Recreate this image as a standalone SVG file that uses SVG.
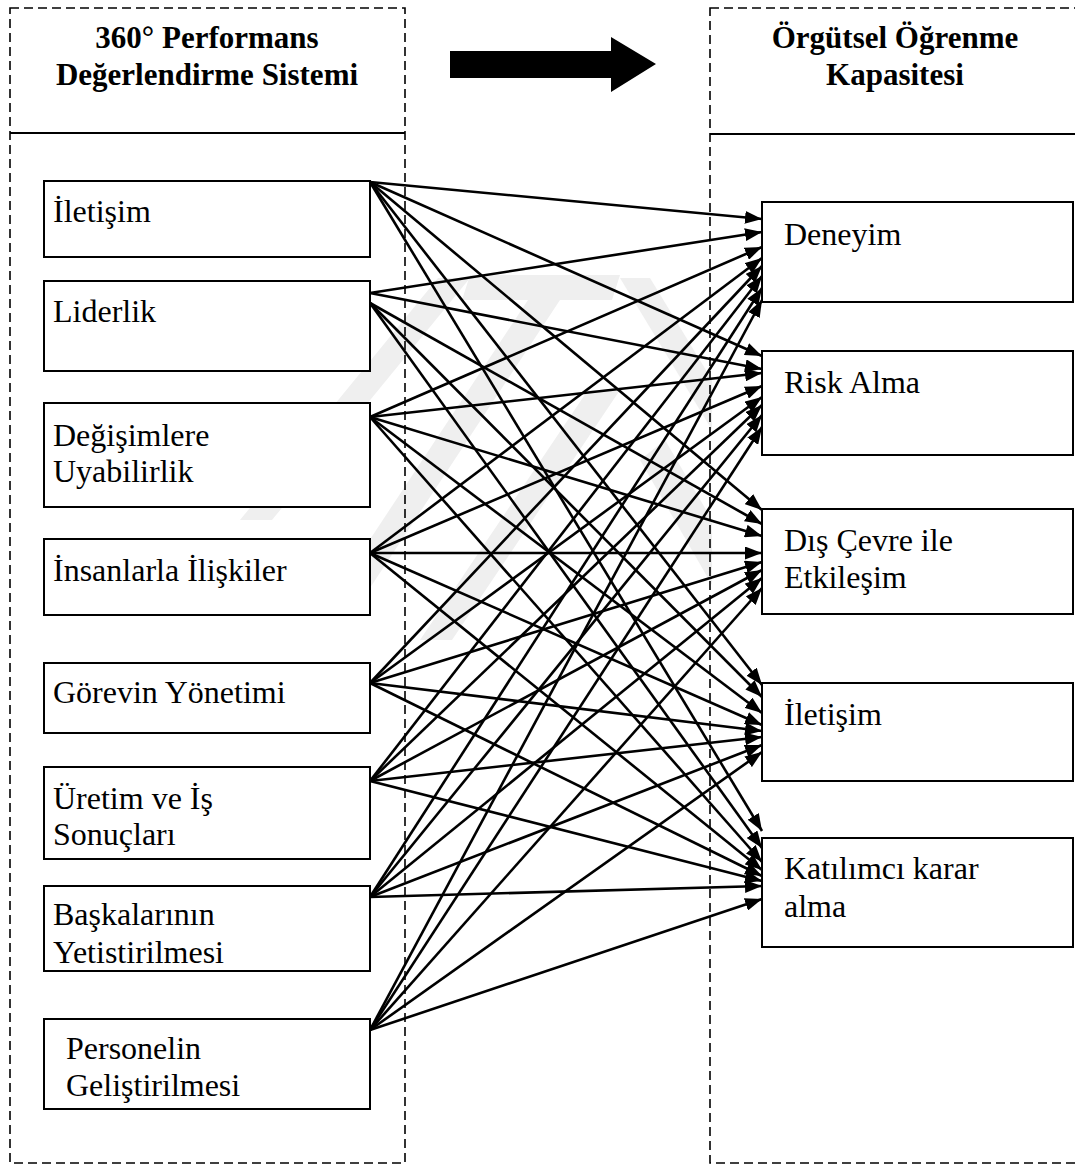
<svg xmlns="http://www.w3.org/2000/svg" width="1075" height="1166" viewBox="0 0 1075 1166">
  <style>
    .frame { fill: none; stroke: #000; stroke-width: 1.6; stroke-dasharray: 9 5; }
    .rule { stroke: #000; stroke-width: 2.2; }
    .box { fill: #fff; stroke: #000; stroke-width: 2; }
    .head { font-family: "Liberation Serif", "Times New Roman", serif; font-weight: bold; font-size: 31px; fill: #000; text-anchor: middle; }
    .lbl { font-family: "Liberation Serif", "Times New Roman", serif; font-size: 32px; fill: #000; }
    .wm { fill: #efefef; }
    #links line { stroke: #000; stroke-width: 2.6; marker-end: url(#tip); }
  </style>
  <defs>
    <marker id="tip" markerUnits="userSpaceOnUse" viewBox="0 0 17 13" markerWidth="17" markerHeight="13" refX="17" refY="6.5" orient="auto">
      <path d="M0,0 L17,6.5 L0,13 Z" fill="#000"/>
    </marker>
  </defs>

  <rect width="1075" height="1166" fill="#fff"/>

  <!-- faint background emblem -->
  <g id="emblem">
    <polygon class="wm" points="240,520 272,520 470,278 438,278"/>
    <polygon class="wm" points="330,600 362,600 560,300 528,300"/>
    <polygon class="wm" points="420,640 452,640 620,390 588,390"/>
    <polygon class="wm" points="470,275 620,275 612,300 462,300"/>
    <polygon class="wm" points="620,278 650,278 712,380 712,430"/>
    <polygon class="wm" points="640,460 665,440 712,520 712,585"/>
  </g>

  <!-- column frames -->
  <g id="frame-left">
    <rect class="frame" x="10" y="8" width="395" height="1155"/>
    <line class="rule" x1="10" y1="133" x2="405" y2="133"/>
    <text class="head" x="207" y="48">360° Performans</text>
    <text class="head" x="207" y="85">Değerlendirme Sistemi</text>
  </g>
  <g id="frame-right">
    <rect class="frame" x="710" y="8" width="375" height="1155"/>
    <line class="rule" x1="710" y1="134" x2="1075" y2="134"/>
    <text class="head" x="895" y="48">Örgütsel Öğrenme</text>
    <text class="head" x="895" y="85">Kapasitesi</text>
  </g>

  <!-- block arrow between headers -->
  <g id="flow-arrow">
    <polygon points="450,51 611,51 611,37 656,64 611,92 611,78 450,78" fill="#000"/>
  </g>

  <!-- connectors -->
  <g id="links">
    <!-- İletişim -->
    <line x1="370" y1="182" x2="762" y2="219"/>
    <line x1="370" y1="182" x2="762" y2="356"/>
    <line x1="370" y1="182" x2="762" y2="510"/>
    <line x1="370" y1="182" x2="762" y2="685"/>
    <line x1="370" y1="182" x2="762" y2="831"/>
    <!-- Liderlik -->
    <line x1="370" y1="293" x2="762" y2="232"/>
    <line x1="370" y1="293" x2="762" y2="369"/>
    <line x1="370" y1="303" x2="762" y2="524"/>
    <line x1="370" y1="303" x2="762" y2="697"/>
    <line x1="370" y1="303" x2="762" y2="848"/>
    <!-- Değişimlere Uyabilirlik -->
    <line x1="370" y1="417" x2="762" y2="247"/>
    <line x1="370" y1="417" x2="762" y2="373"/>
    <line x1="370" y1="417" x2="762" y2="536"/>
    <line x1="370" y1="417" x2="762" y2="713"/>
    <line x1="370" y1="417" x2="762" y2="862"/>
    <!-- İnsanlarla İlişkiler -->
    <line x1="370" y1="553" x2="762" y2="258"/>
    <line x1="370" y1="553" x2="762" y2="386"/>
    <line x1="370" y1="553" x2="762" y2="553"/>
    <line x1="370" y1="553" x2="762" y2="725"/>
    <line x1="370" y1="553" x2="762" y2="870"/>
    <!-- Görevin Yönetimi -->
    <line x1="370" y1="683" x2="762" y2="266"/>
    <line x1="370" y1="683" x2="762" y2="397"/>
    <line x1="370" y1="683" x2="762" y2="562"/>
    <line x1="370" y1="683" x2="762" y2="731"/>
    <line x1="370" y1="683" x2="762" y2="876"/>
    <!-- Üretim ve İş Sonuçları -->
    <line x1="370" y1="781" x2="762" y2="276"/>
    <line x1="370" y1="781" x2="762" y2="405"/>
    <line x1="370" y1="781" x2="762" y2="570"/>
    <line x1="370" y1="781" x2="762" y2="737"/>
    <line x1="370" y1="781" x2="762" y2="881"/>
    <!-- Başkalarının Yetistirilmesi -->
    <line x1="370" y1="897" x2="762" y2="288"/>
    <line x1="370" y1="897" x2="762" y2="415"/>
    <line x1="370" y1="897" x2="762" y2="578"/>
    <line x1="370" y1="897" x2="762" y2="745"/>
    <line x1="370" y1="897" x2="762" y2="886"/>
    <!-- Personelin Geliştirilmesi -->
    <line x1="370" y1="1030" x2="762" y2="300"/>
    <line x1="370" y1="1030" x2="762" y2="427"/>
    <line x1="370" y1="1030" x2="762" y2="588"/>
    <line x1="370" y1="1030" x2="762" y2="752"/>
    <line x1="370" y1="1030" x2="762" y2="899"/>
  </g>

  <!-- left column nodes -->
  <g id="src-iletisim">
    <rect class="box" x="44" y="181" width="326" height="76"/>
    <text class="lbl" x="53" y="222">İletişim</text>
  </g>
  <g id="src-liderlik">
    <rect class="box" x="44" y="281" width="326" height="90"/>
    <text class="lbl" x="53" y="322">Liderlik</text>
  </g>
  <g id="src-degisim">
    <rect class="box" x="44" y="403" width="326" height="104"/>
    <text class="lbl" x="53" y="446">Değişimlere</text>
    <text class="lbl" x="53" y="482">Uyabilirlik</text>
  </g>
  <g id="src-insan">
    <rect class="box" x="44" y="539" width="326" height="76"/>
    <text class="lbl" x="53" y="581">İnsanlarla İlişkiler</text>
  </g>
  <g id="src-gorev">
    <rect class="box" x="44" y="663" width="326" height="70"/>
    <text class="lbl" x="53" y="703">Görevin Yönetimi</text>
  </g>
  <g id="src-uretim">
    <rect class="box" x="44" y="767" width="326" height="92"/>
    <text class="lbl" x="53" y="809">Üretim ve İş</text>
    <text class="lbl" x="53" y="845">Sonuçları</text>
  </g>
  <g id="src-baskalari">
    <rect class="box" x="44" y="886" width="326" height="85"/>
    <text class="lbl" x="53" y="925">Başkalarının</text>
    <text class="lbl" x="53" y="963">Yetistirilmesi</text>
  </g>
  <g id="src-personel">
    <rect class="box" x="44" y="1019" width="326" height="90"/>
    <text class="lbl" x="66" y="1059">Personelin</text>
    <text class="lbl" x="66" y="1096">Geliştirilmesi</text>
  </g>

  <!-- right column nodes -->
  <g id="dst-deneyim">
    <rect class="box" x="762" y="202" width="311" height="100"/>
    <text class="lbl" x="784" y="245">Deneyim</text>
  </g>
  <g id="dst-risk">
    <rect class="box" x="762" y="351" width="311" height="104"/>
    <text class="lbl" x="784" y="393">Risk Alma</text>
  </g>
  <g id="dst-cevre">
    <rect class="box" x="762" y="509" width="311" height="105"/>
    <text class="lbl" x="784" y="551">Dış Çevre ile</text>
    <text class="lbl" x="784" y="588">Etkileşim</text>
  </g>
  <g id="dst-iletisim">
    <rect class="box" x="762" y="683" width="311" height="98"/>
    <text class="lbl" x="784" y="725">İletişim</text>
  </g>
  <g id="dst-katilim">
    <rect class="box" x="762" y="838" width="311" height="109"/>
    <text class="lbl" x="784" y="879">Katılımcı karar</text>
    <text class="lbl" x="784" y="917">alma</text>
  </g>
</svg>
